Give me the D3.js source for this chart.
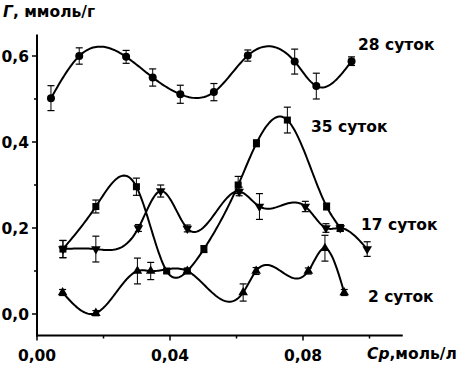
<!DOCTYPE html>
<html>
<head>
<meta charset="utf-8">
<script src="https://cdn.jsdelivr.net/npm/d3@7"></script>
<style>
  body { margin: 0; background: #fff; }
  svg text { font-family: 'DejaVu Sans', 'Liberation Sans', Arial, sans-serif; font-weight: bold; fill: #000; }
</style>
</head>
<body>
<figure style="margin:0"></figure>
<script>
const width = 467
const height = 365

// concentration, mol/l
const x28 = [0.0042, 0.0127, 0.0268, 0.0348, 0.0431, 0.0532, 0.0634, 0.0775, 0.0840, 0.0946]
const g28 = [0.502, 0.600, 0.598, 0.550, 0.511, 0.516, 0.601, 0.587, 0.530, 0.588]
const e28 = [0.029, 0.019, 0.015, 0.020, 0.021, 0.020, 0.013, 0.029, 0.030, 0.010]

const x35 = [0.0078, 0.0177, 0.0299, 0.0390, 0.0452, 0.0502, 0.0605, 0.0660, 0.0753, 0.0871, 0.0912]
const g35 = [0.151, 0.250, 0.296, 0.100, 0.100, 0.151, 0.300, 0.397, 0.451, 0.250, 0.200]
const e35 = [0.020, 0.015, 0.020, 0.005, 0.005, 0.008, 0.020, 0.008, 0.030, 0.008, 0.008]

const x17 = [0.0078, 0.0177, 0.0305, 0.0372, 0.0452, 0.0608, 0.0669, 0.0807, 0.0869, 0.0912, 0.0993]
const g17 = [0.151, 0.151, 0.200, 0.286, 0.199, 0.285, 0.250, 0.250, 0.200, 0.200, 0.151]
const e17 = [0.020, 0.030, 0.008, 0.014, 0.008, 0.010, 0.030, 0.012, 0.010, 0.007, 0.017]

const x2 = [0.0077, 0.0177, 0.0302, 0.0342, 0.0452, 0.0620, 0.0659, 0.0816, 0.0866, 0.0924]
const g2 = [0.050, 0.002, 0.100, 0.100, 0.100, 0.050, 0.100, 0.100, 0.153, 0.050]
const e2 = [0.007, 0.006, 0.030, 0.020, 0.006, 0.020, 0.008, 0.007, 0.030, 0.007]

const xTicks = [0, 0.04, 0.08]
const xMinor = [0.02, 0.06, 0.10]
const yTicks = [0, 0.2, 0.4, 0.6]
const yMinor = [0.1, 0.3, 0.5]

const series = [
  { name: '28 суток', xs: x28, ys: g28, es: e28, mark: 'circle', lx: 358, ly: 49.5 },
  { name: '35 суток', xs: x35, ys: g35, es: e35, mark: 'square', lx: 311, ly: 131.5 },
  { name: '17 суток', xs: x17, ys: g17, es: e17, mark: 'down', lx: 361, ly: 230 },
  { name: '2 суток', xs: x2, ys: g2, es: e2, mark: 'up', lx: 368, ly: 301.5 }
]

const x = d3.scaleLinear().domain([0, 0.11]).range([37, 402.75])
const y = d3.scaleLinear().domain([-0.05, 0.65]).range([335.5, 34.5])

const fmt = d3.format('.2f')
const comma = s => s.replace('.', ',')

// natural cubic spline y(x), like Origin's spline connection
const spline = (xs, ys) => {
  const n = xs.length
  const h = d3.range(n - 1).map(i => xs[i + 1] - xs[i])
  const M = new Array(n).fill(0)
  const a = [], b = [], c = [], r = []
  for (let i = 1; i < n - 1; i++) {
    a.push(h[i - 1]); b.push(2 * (h[i - 1] + h[i])); c.push(h[i])
    r.push(6 * ((ys[i + 1] - ys[i]) / h[i] - (ys[i] - ys[i - 1]) / h[i - 1]))
  }
  const m = r.length
  for (let i = 1; i < m; i++) {
    const w = a[i] / b[i - 1]
    b[i] -= w * c[i - 1]
    r[i] -= w * r[i - 1]
  }
  for (let i = m - 1; i >= 0; i--) {
    M[i + 1] = (r[i] - (i < m - 1 ? c[i] * M[i + 2] : 0)) / b[i]
  }
  return t => {
    let i = Math.min(n - 2, Math.max(0, d3.bisectRight(xs, t) - 1))
    const hi = h[i], A = xs[i + 1] - t, B = t - xs[i]
    return M[i] * A * A * A / (6 * hi) + M[i + 1] * B * B * B / (6 * hi) +
      (ys[i] / hi - M[i] * hi / 6) * A + (ys[i + 1] / hi - M[i + 1] * hi / 6) * B
  }
}

const svg = d3.select('figure').append('svg')
  .attr('width', width)
  .attr('height', height)

// axes
const xAxis = svg.append('g').attr('transform', `translate(0,${y(-0.05)})`)
xAxis.append('line').attr('x1', x(0) - 1).attr('x2', x(0.11)).attr('stroke', '#000').attr('stroke-width', 2)
xAxis.selectAll('.maj').data(xTicks).join('line')
  .attr('x1', d => x(d)).attr('x2', d => x(d)).attr('y1', 0).attr('y2', 5)
  .attr('stroke', '#000').attr('stroke-width', 1.5)
xAxis.selectAll('.min').data(xMinor).join('line')
  .attr('x1', d => x(d)).attr('x2', d => x(d)).attr('y1', 0).attr('y2', 3)
  .attr('stroke', '#000').attr('stroke-width', 1.5)
xAxis.selectAll('text').data(xTicks).join('text')
  .attr('x', d => x(d)).attr('y', 25)
  .attr('text-anchor', 'middle').attr('font-size', 15.5)
  .text(d => comma(fmt(d)))

const yAxis = svg.append('g').attr('transform', `translate(${x(0)},0)`)
yAxis.append('line').attr('y1', y(0.65)).attr('y2', y(-0.05) + 1).attr('stroke', '#000').attr('stroke-width', 2)
yAxis.selectAll('.maj').data(yTicks).join('line')
  .attr('y1', d => y(d)).attr('y2', d => y(d)).attr('x1', 0).attr('x2', -5)
  .attr('stroke', '#000').attr('stroke-width', 1.5)
yAxis.selectAll('.min').data(yMinor).join('line')
  .attr('y1', d => y(d)).attr('y2', d => y(d)).attr('x1', 0).attr('x2', -3)
  .attr('stroke', '#000').attr('stroke-width', 1.5)
yAxis.selectAll('text').data(yTicks).join('text')
  .attr('x', -8).attr('y', d => y(d) + 6)
  .attr('text-anchor', 'end').attr('font-size', 15.5)
  .text(d => comma(d.toFixed(1)))

// axis titles
const yt = svg.append('text').attr('x', 3).attr('y', 16.5).attr('font-size', 15.5)
yt.append('tspan').attr('font-style', 'italic').text('Г')
yt.append('tspan').text(', ммоль/г')

const xt = svg.append('text').attr('x', 367).attr('y', 359).attr('font-size', 15.5)
xt.append('tspan').attr('font-style', 'italic').text('Cp')
xt.append('tspan').text(',моль/л')

const line = d3.line()
  .x(d => x(d[0]))
  .y(d => y(d[1]))

const triUp = d3.symbol().type(d3.symbolTriangle).size(40)

series.forEach(s => {
  const pts = s.xs.map((v, i) => [v, s.ys[i], s.es[i]])
  const f = spline(s.xs, s.ys)
  const lo = s.xs[0], hi = s.xs[s.xs.length - 1]
  const curve = d3.range(0, 201).map(k => {
    const t = lo + (hi - lo) * k / 200
    return [t, f(t)]
  })
  const g = svg.append('g')

  g.append('path')
    .attr('d', line(curve))
    .attr('fill', 'none')
    .attr('stroke', '#000')
    .attr('stroke-width', 2)

  // error bars
  const eb = g.selectAll('g.err').data(pts).join('g')
  eb.append('line')
    .attr('x1', d => x(d[0])).attr('x2', d => x(d[0]))
    .attr('y1', d => y(d[1] - d[2])).attr('y2', d => y(d[1] + d[2]))
    .attr('stroke', '#000').attr('stroke-width', 1)
  eb.selectAll('line.cap').data(d => [[d[0], d[1] - d[2]], [d[0], d[1] + d[2]]]).join('line')
    .attr('x1', d => x(d[0]) - 3.5).attr('x2', d => x(d[0]) + 3.5)
    .attr('y1', d => y(d[1])).attr('y2', d => y(d[1]))
    .attr('stroke', '#000').attr('stroke-width', 1.2)

  // markers
  const m = g.selectAll('.mk').data(pts).join(s.mark === 'circle' ? 'circle' : s.mark === 'square' ? 'rect' : 'path')
  if (s.mark === 'circle') {
    m.attr('cx', d => x(d[0])).attr('cy', d => y(d[1])).attr('r', 4)
  } else if (s.mark === 'square') {
    m.attr('x', d => x(d[0]) - 3.5).attr('y', d => y(d[1]) - 3.5).attr('width', 7).attr('height', 7)
  } else {
    const rot = s.mark === 'down' ? 180 : 0
    m.attr('d', triUp).attr('transform', d => `translate(${x(d[0])},${y(d[1])}) rotate(${rot})`)
  }
  m.attr('fill', '#000')

  svg.append('text')
    .attr('x', s.lx).attr('y', s.ly)
    .attr('font-size', 15.5)
    .text(s.name)
})
</script>
</body>
</html>
